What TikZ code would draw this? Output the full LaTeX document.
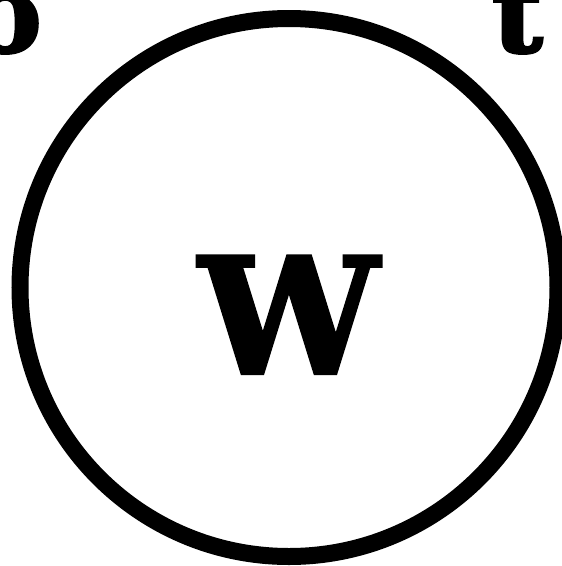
\documentclass[tikz,border=0pt]{standalone}
\usepackage{fontspec}
\setmainfont{DejaVu Serif}
\newfontfamily\heavyserif[FakeBold=2.5]{DejaVu Serif Bold}
\begin{document}
\begin{tikzpicture}[x=1pt,y=-1pt,
  lbl/.style={inner sep=0pt}]
\useasboundingbox (0,0) rectangle (562,566);
\clip (0,0) rectangle (562,566);
\node[draw, circle, line width=17pt, minimum size=538pt, inner sep=0pt] (ring) at (289,287.5) {};
\node[lbl, font=\heavyserif\fontsize{160}{160}\selectfont, anchor=base] (w) at (289,373) {W};
\node[lbl, font=\heavyserif\fontsize{110}{110}\selectfont, anchor=base east] (o) at (42,52) {o};
\node[lbl, font=\heavyserif\fontsize{110}{110}\selectfont, anchor=base east] (t) at (543,52) {t};
\end{tikzpicture}
\end{document}
